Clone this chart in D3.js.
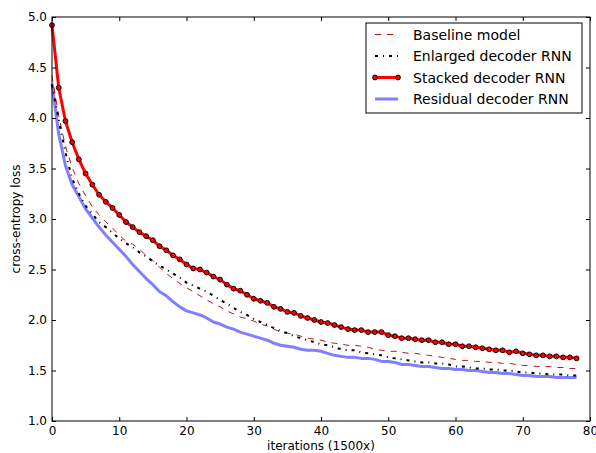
<!DOCTYPE html>
<html>
<head>
<meta charset="utf-8">
<script src="https://cdn.jsdelivr.net/npm/d3@7"></script>
<style>
  body { margin: 0; background: #fff; }
  svg { font-family: "DejaVu Sans", sans-serif; }
</style>
</head>
<body>
<svg id="chart" width="596" height="453"></svg>
<script>
// data, one value per iteration (0..78)
const baseline = [4.42,4.02,3.72,3.51,3.35,3.23,3.12,3.04,2.97,2.91,2.84,2.78,2.75,2.70,2.64,2.59,2.52,2.46,2.41,2.36,
  2.32,2.28,2.24,2.20,2.16,2.13,2.09,2.06,2.03,2.01,1.99,1.96,1.94,1.91,1.88,1.87,1.86,1.84,1.82,1.81,
  1.80,1.78,1.77,1.76,1.75,1.75,1.74,1.73,1.71,1.70,1.69,1.69,1.68,1.67,1.67,1.66,1.65,1.64,1.63,1.62,
  1.61,1.60,1.60,1.59,1.59,1.58,1.58,1.57,1.57,1.56,1.55,1.55,1.54,1.54,1.54,1.53,1.53,1.52,1.52];
const enlarged = [4.33,3.98,3.66,3.40,3.25,3.13,3.05,2.97,2.92,2.86,2.81,2.76,2.72,2.67,2.63,2.58,2.54,2.50,2.46,2.42,
  2.37,2.34,2.31,2.28,2.24,2.20,2.16,2.12,2.08,2.05,2.01,1.98,1.95,1.92,1.89,1.87,1.84,1.82,1.80,1.78,
  1.76,1.75,1.73,1.71,1.70,1.70,1.68,1.67,1.66,1.65,1.63,1.62,1.61,1.60,1.59,1.58,1.58,1.57,1.57,1.56,
  1.54,1.54,1.53,1.52,1.52,1.51,1.51,1.50,1.50,1.49,1.48,1.48,1.47,1.47,1.46,1.46,1.46,1.45,1.45];
const stacked = [4.92,4.30,3.97,3.76,3.59,3.45,3.34,3.24,3.17,3.11,3.04,2.97,2.92,2.87,2.83,2.79,2.73,2.69,2.64,2.60,
  2.55,2.51,2.50,2.47,2.43,2.40,2.35,2.31,2.29,2.25,2.21,2.19,2.17,2.13,2.11,2.08,2.07,2.04,2.02,2.00,
  1.98,1.97,1.95,1.93,1.91,1.90,1.90,1.88,1.88,1.88,1.85,1.84,1.82,1.82,1.81,1.80,1.80,1.78,1.78,1.76,
  1.76,1.74,1.74,1.73,1.72,1.71,1.70,1.70,1.68,1.69,1.67,1.66,1.65,1.65,1.64,1.64,1.63,1.63,1.62];
const residual = [4.34,3.84,3.53,3.34,3.22,3.10,3.01,2.92,2.84,2.77,2.70,2.63,2.55,2.48,2.41,2.35,2.28,2.24,2.18,2.13,
  2.09,2.07,2.05,2.02,1.98,1.96,1.93,1.91,1.88,1.86,1.84,1.82,1.80,1.77,1.75,1.74,1.73,1.71,1.70,1.70,
  1.69,1.67,1.65,1.64,1.63,1.63,1.62,1.62,1.61,1.59,1.59,1.58,1.56,1.56,1.55,1.54,1.54,1.53,1.52,1.52,
  1.51,1.51,1.50,1.50,1.49,1.48,1.48,1.47,1.47,1.46,1.45,1.45,1.44,1.44,1.44,1.43,1.43,1.43,1.43];

const seriesNames = ["Baseline model", "Enlarged decoder RNN", "Stacked decoder RNN", "Residual decoder RNN"];
const xTicks = [0, 10, 20, 30, 40, 50, 60, 70, 80];
const yTicks = [1.0, 1.5, 2.0, 2.5, 3.0, 3.5, 4.0, 4.5, 5.0];

const svg = d3.select("#chart");
const plotLeft = 52, plotRight = 590, plotTop = 17, plotBottom = 421;

const x = d3.scaleLinear().domain([0, 80]).range([plotLeft, plotRight]);
const y = d3.scaleLinear().domain([1, 5]).range([plotBottom, plotTop]);

const series = [
  { name: seriesNames[0], values: baseline, color: "#b41a1a", width: 1, dash: "6,6" },
  { name: seriesNames[1], values: enlarged, color: "#000", width: 2, dash: "3,5,1,5" },
  { name: seriesNames[2], values: stacked, color: "#ff0000", width: 3, dash: null, markers: true },
  { name: seriesNames[3], values: residual, color: "#7f7fff", width: 3, dash: null }
];

const line = d3.line().x((d, i) => x(i)).y(d => y(d));

// draw order: residual under others like in the picture
const drawOrder = [3, 0, 1, 2];
const plot = svg.append("g");
drawOrder.forEach(k => {
  const s = series[k];
  plot.append("path")
    .datum(s.values)
    .attr("d", line)
    .attr("fill", "none")
    .attr("stroke", s.color)
    .attr("stroke-width", s.width)
    .attr("stroke-dasharray", s.dash)
    .attr("stroke-linejoin", "round");
  if (s.markers) {
    plot.selectAll(null)
      .data(s.values)
      .enter().append("circle")
      .attr("cx", (d, i) => x(i))
      .attr("cy", d => y(d))
      .attr("r", 2.4)
      .attr("fill", "#ff0000")
      .attr("stroke", "#000")
      .attr("stroke-width", 1);
  }
});

// axes with inward ticks on all sides
const tickFmt = d3.format(".1f");
svg.append("g")
  .attr("transform", `translate(0,${plotBottom})`)
  .call(d3.axisBottom(x).tickValues(xTicks).tickSizeInner(-4).tickSizeOuter(0).tickPadding(5))
  .call(g => g.select(".domain").remove());
svg.append("g")
  .attr("transform", `translate(0,${plotTop})`)
  .call(d3.axisTop(x).tickValues(xTicks).tickSizeInner(-4).tickSizeOuter(0).tickFormat(""))
  .call(g => g.select(".domain").remove());
svg.append("g")
  .attr("transform", `translate(${plotLeft},0)`)
  .call(d3.axisLeft(y).tickValues(yTicks).tickFormat(tickFmt).tickSizeInner(-4).tickSizeOuter(0).tickPadding(5))
  .call(g => g.select(".domain").remove());
svg.append("g")
  .attr("transform", `translate(${plotRight},0)`)
  .call(d3.axisRight(y).tickValues(yTicks).tickSizeInner(-4).tickSizeOuter(0).tickFormat(""))
  .call(g => g.select(".domain").remove());

svg.selectAll(".tick text").attr("font-size", 12).attr("fill", "#000").attr("font-family", "DejaVu Sans");
svg.selectAll(".tick line").attr("stroke", "#000");

svg.append("rect")
  .attr("x", plotLeft).attr("y", plotTop)
  .attr("width", plotRight - plotLeft).attr("height", plotBottom - plotTop)
  .attr("fill", "none").attr("stroke", "#000").attr("stroke-width", 1);

// axis labels
svg.append("text")
  .attr("x", (plotLeft + plotRight) / 2).attr("y", 450)
  .attr("text-anchor", "middle").attr("font-size", 12)
  .text("iterations (1500x)");
svg.append("text")
  .attr("transform", `translate(20,${(plotTop + plotBottom) / 2}) rotate(-90)`)
  .attr("text-anchor", "middle").attr("font-size", 12)
  .text("cross-entropy loss");

// legend
const legend = svg.append("g").attr("transform", "translate(366,23)");
legend.append("rect")
  .attr("width", 216).attr("height", 90)
  .attr("fill", "#fff").attr("stroke", "#000").attr("stroke-width", 1);
series.forEach((s, i) => {
  const ly = 11.5 + i * 21.5;
  legend.append("line")
    .attr("x1", 9).attr("x2", 32).attr("y1", ly).attr("y2", ly)
    .attr("stroke", s.color).attr("stroke-width", s.width)
    .attr("stroke-dasharray", s.dash);
  if (s.markers) {
    [9, 32].forEach(mx => legend.append("circle")
      .attr("cx", mx).attr("cy", ly).attr("r", 2.4)
      .attr("fill", "#ff0000").attr("stroke", "#000"));
  }
  legend.append("text")
    .attr("x", 47).attr("y", ly + 5)
    .attr("font-size", 14)
    .text(s.name);
});
</script>
</body>
</html>
